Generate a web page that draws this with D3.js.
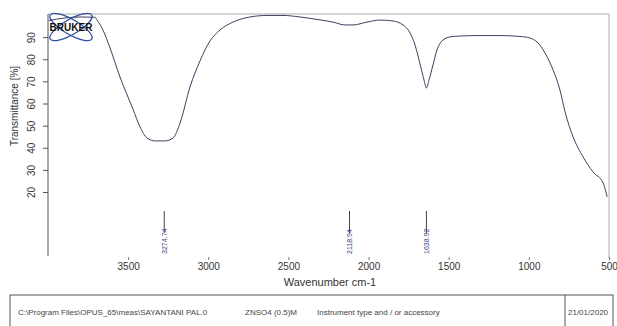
<!DOCTYPE html>
<html>
<head>
<meta charset="utf-8">
<script src="https://cdn.jsdelivr.net/npm/d3@7"></script>
<style>
  body { margin: 0; background: #fff; }
  svg { display: block; font-family: "Liberation Sans", Arial, sans-serif; }
  .narrow { font-family: "Liberation Sans Narrow", "Arial Narrow", "Liberation Sans", sans-serif; }
</style>
</head>
<body>
<svg id="chart" width="617" height="326"></svg>
<script>
// Spectrum (wavenumber cm-1, transmittance %)
const wavenumbers = [3995, 3900, 3800, 3707, 3694, 3657, 3613, 3551, 3470, 3426, 3382, 3332, 3270,
  3220, 3176, 3114, 3052, 2989, 2927, 2846, 2740, 2634, 2534, 2428, 2322, 2222, 2147, 2097,
  2010, 1929, 1848, 1785, 1741, 1710, 1679, 1654, 1639, 1623, 1598, 1573, 1542, 1492, 1430,
  1305, 1180, 1055, 993, 949, 899, 849, 806, 774, 724, 662, 600, 537, 519, 512];
const transmittance = [97.5, 98.6, 99.1, 99.0, 97.7, 93.2, 85.1, 72.0, 57.5, 49.4, 44.4, 43.1, 43.1,
  44.4, 51.2, 67.5, 79.2, 88.3, 93.2, 96.8, 99.1, 99.8, 99.8, 99.1, 98.0, 96.8, 95.5, 95.5,
  96.8, 97.7, 97.3, 95.5, 91.9, 86.4, 77.9, 70.6, 67.0, 70.6, 77.4, 84.2, 88.3, 90.1, 90.5,
  90.7, 90.7, 90.3, 89.6, 87.8, 82.8, 75.2, 66.1, 56.2, 44.9, 35.9, 29.1, 24.1, 20.0, 17.8];

// Peak picks
const peakPositions = [3274.74, 2118.94, 1638.92];
const peakLabels = ["3274.74", "2118.94", "1638.92"];

// Axis ticks
const xTicks = [3500, 3000, 2500, 2000, 1500, 1000, 500];
const yTicks = [20, 30, 40, 50, 60, 70, 80, 90];

// Footer fields
const footerFields = ["C:\\Program Files\\OPUS_65\\meas\\SAYANTANI PAL.0", "ZNSO4 (0.5)M",
  "Instrument type and / or accessory"];
const footerDate = "21/01/2020";

const svg = d3.select("#chart");

const x = d3.scaleLinear().domain([4000, 500]).range([48, 609]);
const y = d3.scaleLinear().domain([100, 20]).range([15, 192]);
const plotTop = 14, plotBottom = 256;

// Frame (top + right in light gray)
svg.append("path")
  .attr("d", `M48,${plotTop}H609V258`)
  .attr("fill", "none")
  .attr("stroke", "#aaa")
  .attr("stroke-width", 1);

// Y axis
const yAxisG = svg.append("g")
  .attr("transform", "translate(48,0)")
  .call(d3.axisLeft(y).tickValues(yTicks).tickSize(5));
yAxisG.select(".domain").remove();
yAxisG.append("line")
  .attr("y1", plotTop).attr("y2", plotBottom)
  .attr("stroke", "#555");
yAxisG.selectAll(".tick line").attr("stroke", "#555");
yAxisG.selectAll(".tick text")
  .attr("class", "narrow")
  .attr("transform", "rotate(-90)")
  .attr("x", 0).attr("y", -17).attr("dy", "0.35em")
  .style("text-anchor", "middle")
  .style("font-size", "10px")
  .attr("fill", "#333");

svg.append("text")
  .attr("class", "narrow")
  .attr("transform", "translate(18,106) rotate(-90)")
  .attr("text-anchor", "middle")
  .style("font-size", "10px")
  .attr("fill", "#333")
  .text("Transmittance [%]");

// X axis (ticks and labels only)
const xAxisG = svg.append("g")
  .attr("transform", "translate(0,257)")
  .call(d3.axisBottom(x).tickValues(xTicks).tickSize(3).tickPadding(3).tickFormat(d3.format("d")));
xAxisG.select(".domain").remove();
xAxisG.selectAll(".tick line").attr("stroke", "#777");
xAxisG.selectAll(".tick text")
  .style("font-size", "10px")
  .attr("fill", "#333");

svg.append("text")
  .attr("x", 330).attr("y", 286)
  .attr("text-anchor", "middle")
  .style("font-size", "11px")
  .attr("fill", "#333")
  .text("Wavenumber cm-1");

// Spectrum line
const spectrum = wavenumbers.map((w, i) => ({ w, t: transmittance[i] }));
const line = d3.line()
  .x(d => x(d.w))
  .y(d => y(d.t))
  .curve(d3.curveMonotoneX);
svg.append("path")
  .datum(spectrum)
  .attr("fill", "none")
  .attr("stroke", "#3f3f60")
  .attr("stroke-width", 1)
  .attr("d", line);

// Peak markers
const peaksG = svg.selectAll(".peak").data(peakPositions)
  .enter().append("g")
    .attr("class", "peak")
    .attr("transform", d => `translate(${x(d)},0)`);
peaksG.append("line")
  .attr("y1", 211).attr("y2", 233)
  .attr("stroke", "#444")
  .attr("stroke-width", 1);
peaksG.append("text")
  .attr("class", "narrow")
  .attr("transform", "translate(2.5,254) rotate(-90)")
  .style("font-size", "7px")
  .attr("fill", "#3b3b8a")
  .text((d, i) => peakLabels[i]);

// Bruker logo
const logo = svg.append("g").attr("transform", "translate(71,27)");
[-30, 30].forEach(a => {
  logo.append("ellipse")
    .attr("rx", 24).attr("ry", 7.5)
    .attr("transform", `rotate(${a})`)
    .attr("fill", "none")
    .attr("stroke", "#2e4f9e")
    .attr("stroke-width", 1.3);
});
logo.append("text")
  .attr("x", 0).attr("y", 3.5)
  .attr("text-anchor", "middle")
  .style("font-size", "10px")
  .style("font-weight", "bold")
  .attr("fill", "#111")
  .text("BRUKER");

// Footer box
svg.append("rect")
  .attr("x", 10).attr("y", 295)
  .attr("width", 603).attr("height", 40)
  .attr("fill", "none")
  .attr("stroke", "#555");
svg.append("line")
  .attr("x1", 565).attr("x2", 565)
  .attr("y1", 295).attr("y2", 326)
  .attr("stroke", "#555");

const footerX = [18, 245, 317];
svg.selectAll(".footer").data(footerFields)
  .enter().append("text")
    .attr("class", "footer")
    .attr("x", (d, i) => footerX[i])
    .attr("y", 315)
    .style("font-size", "8px")
    .attr("fill", "#444")
    .text(d => d);
svg.append("text")
  .attr("x", 568).attr("y", 315)
  .style("font-size", "8px")
  .attr("fill", "#444")
  .text(footerDate);
</script>
</body>
</html>
